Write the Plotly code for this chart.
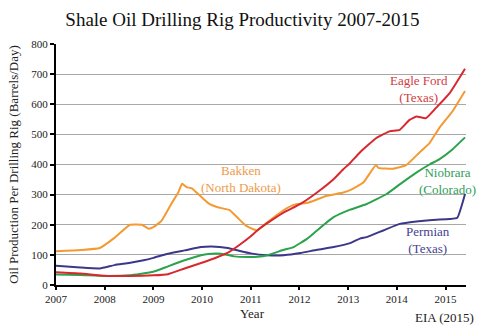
import plotly.graph_objects as go

# Data (decimal years, barrels/day per rig)
bakken_x = [2007.0, 2007.5, 2007.9, 2008.22, 2008.52, 2008.76, 2008.9, 2009.0, 2009.17, 2009.37,
            2009.51, 2009.59, 2009.68, 2009.79, 2009.98, 2010.15, 2010.32, 2010.56, 2010.73, 2010.9,
            2011.05, 2011.14, 2011.34, 2011.68, 2011.88, 2012.19, 2012.56, 2012.9, 2013.04, 2013.31,
            2013.57, 2013.62, 2013.92, 2014.19, 2014.46, 2014.67, 2014.87, 2015.14, 2015.4]
bakken_y = [112, 116, 123, 159, 200, 200, 187, 192, 214, 270,
            307, 336, 325, 321, 293, 269, 258, 249, 223, 197,
            185, 181, 208, 249, 266, 274, 296, 307, 315, 340,
            398, 389, 386, 398, 439, 471, 521, 576, 644]

eagle_x = [2007.0, 2007.5, 2008.0, 2008.5, 2009.0, 2009.3, 2009.64, 2009.98, 2010.32, 2010.56,
           2010.8, 2011.0, 2011.2, 2011.4, 2011.68, 2012.02, 2012.36, 2012.7, 2012.9, 2013.04,
           2013.24, 2013.58, 2013.85, 2014.06, 2014.26, 2014.4, 2014.6, 2014.8, 2015.08, 2015.4]
eagle_y = [42, 38, 31, 30, 32, 36, 55, 73, 93, 110,
           137, 162, 190, 212, 241, 269, 307, 351, 384, 405,
           440, 488, 510, 515, 548, 559, 554, 587, 636, 718]

niob_x = [2007.0, 2007.5, 2008.0, 2008.5, 2009.0, 2009.3, 2009.64, 2009.98, 2010.19, 2010.39,
          2010.66, 2010.93, 2011.14, 2011.34, 2011.68, 2011.88, 2012.16, 2012.36, 2012.7, 2013.04,
          2013.38, 2013.79, 2014.06, 2014.4, 2014.67, 2014.87, 2015.14, 2015.4]
niob_y = [35, 33, 30, 32, 44, 62, 82, 99, 104, 104,
          95, 93, 94, 99, 117, 126, 154, 181, 225, 250,
          269, 302, 334, 373, 400, 417, 450, 490]

perm_x = [2007.0, 2007.5, 2007.9, 2008.2, 2008.5, 2008.8, 2009.0, 2009.3, 2009.64, 2009.98,
          2010.19, 2010.53, 2010.8, 2011.0, 2011.34, 2011.68, 2012.02, 2012.36, 2012.7, 2013.04,
          2013.24, 2013.38, 2013.72, 2014.06, 2014.4, 2014.73, 2015.08, 2015.24, 2015.4]
perm_y = [64, 58, 55, 66, 73, 82, 90, 104, 115, 126,
          128, 123, 112, 105, 99, 99, 106, 117, 126, 139,
          154, 159, 181, 203, 211, 216, 219, 223, 302]

year_ticks = [2007, 2008, 2009, 2010, 2011, 2012, 2013, 2014, 2015]
y_ticks = [0, 100, 200, 300, 400, 500, 600, 700, 800]

RED = "#d7282f"
ORANGE = "#f39a32"
GREEN = "#2ba24c"
PURPLE = "#3b3789"
FONT = "Liberation Serif, Times New Roman, serif"

fig = go.Figure()
for xs, ys, c, n in [(perm_x, perm_y, PURPLE, "Permian"),
                     (niob_x, niob_y, GREEN, "Niobrara"),
                     (bakken_x, bakken_y, ORANGE, "Bakken"),
                     (eagle_x, eagle_y, RED, "Eagle Ford")]:
    fig.add_trace(go.Scatter(x=xs, y=ys, mode="lines", name=n,
                             line=dict(color=c, width=2, shape="spline", smoothing=0.4)))

labels = [
    ("Eagle Ford<br>(Texas)", 2014.46, 650, "#d23a3f"),
    ("Bakken<br>(North Dakota)", 2010.8, 352, "#ee9a4a"),
    ("Niobrara<br>(Colorado)", 2015.03, 345, "#2e9e58"),
    ("Permian<br>(Texas)", 2014.63, 151, "#45418e"),
]
for t, x, y, c in labels:
    fig.add_annotation(x=x, y=y, text=t, showarrow=False, xanchor="center", yanchor="middle",
                       font=dict(family=FONT, size=13, color=c))

fig.add_annotation(xref="paper", yref="paper", x=(251 - 53.5) / (466 - 53.5), y=-(304 - 285) / 241,
                   text="Year", showarrow=False, yanchor="top", xanchor="center",
                   font=dict(family=FONT, size=13, color="#222"))
fig.add_annotation(xref="paper", yref="paper", x=(476 - 53.5) / (466 - 53.5), y=-(317 - 285) / 241,
                   text="EIA (2015)", showarrow=False, yanchor="middle", xanchor="right",
                   font=dict(family=FONT, size=13, color="#222"))

fig.update_layout(
    width=480, height=326,
    margin=dict(l=53.5, r=14, t=44, b=41),
    paper_bgcolor="white", plot_bgcolor="white",
    showlegend=False,
    title=dict(text="Shale Oil Drilling Rig Productivity 2007-2015", x=0.505, xref="container",
               y=1 - 19 / 326, yref="container", yanchor="middle", xanchor="center",
               font=dict(family=FONT, size=19, color="#111")),
    font=dict(family=FONT, color="#222"),
)
fig.update_xaxes(range=[2007, 2015.42], tickvals=year_ticks, ticktext=[str(v) for v in year_ticks],
                 showgrid=False, showline=True, linecolor="black", linewidth=2,
                 ticks="outside", ticklen=3, tickcolor="black", tickwidth=1.5,
                 tickfont=dict(family=FONT, size=11, color="#222"), zeroline=False)
fig.update_yaxes(range=[0, 800], tickvals=y_ticks, showgrid=True, gridcolor="#a8a8a8", gridwidth=1.3,
                 showline=True, linecolor="black", linewidth=2,
                 ticks="outside", ticklen=4, tickcolor="black", tickwidth=1.5,
                 tickfont=dict(family=FONT, size=11, color="#222"), zeroline=False,
                 title=dict(text="Oil Production Per Drilling Rig (Barrels/Day)", standoff=10,
                            font=dict(family=FONT, size=13, color="#222")))

fig.write_html("out.html")
